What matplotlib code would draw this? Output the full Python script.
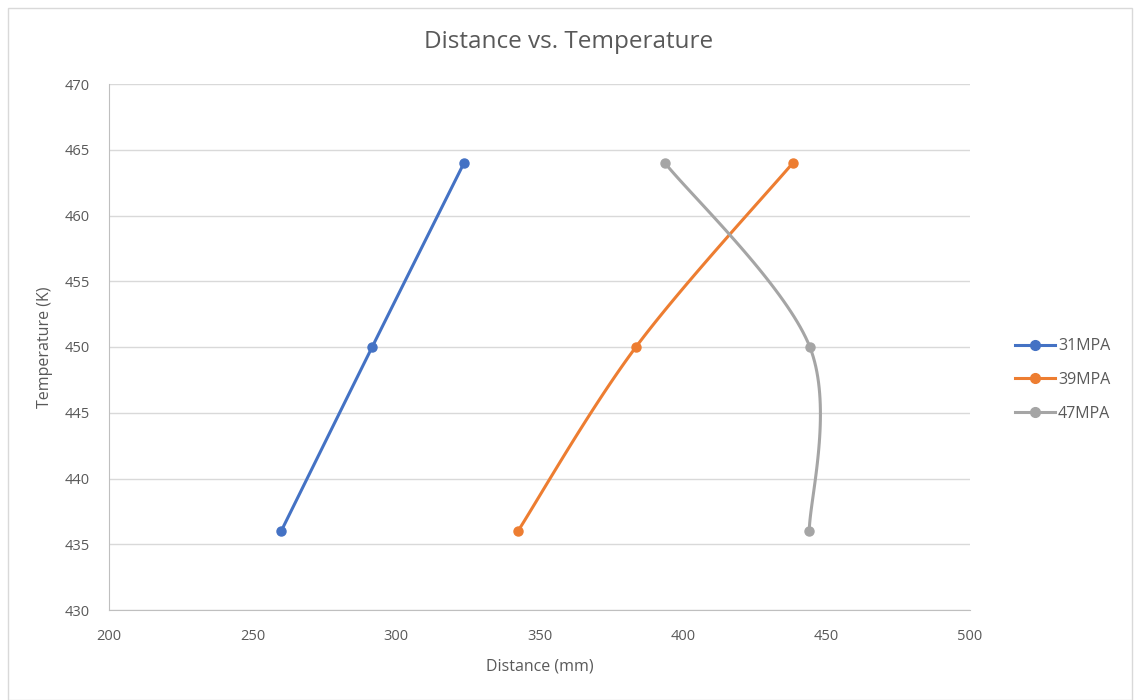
import numpy as np
import matplotlib.pyplot as plt
from matplotlib.patches import Rectangle

temps = [436, 450, 464]
dist_31 = [260.0, 291.7, 323.7]
dist_39 = [342.5, 383.6, 438.3]
dist_47 = [444.0, 444.2, 393.7]
labels = ['31MPA', '39MPA', '47MPA']
colors = ['#4472C4', '#ED7D31', '#A5A5A5']

xticks = [200, 250, 300, 350, 400, 450, 500]
yticks = [430, 435, 440, 445, 450, 455, 460, 465, 470]

# pixel scale of the axes, so smoothing looks like excel's
sx = 861 / 300.0
sy = 526 / 40.0


def smooth(xs, ys, n=40):
    p = np.column_stack([np.array(xs) * sx, np.array(ys) * sy])
    out = []
    for i in range(len(p) - 1):
        p0 = p[i - 1] if i > 0 else p[i]
        p3 = p[i + 2] if i + 2 < len(p) else p[i + 1]
        c1 = p[i] + (p[i + 1] - p0) / 6.0
        c2 = p[i + 1] - (p3 - p[i]) / 6.0
        t = np.linspace(0, 1, n)[:, None]
        seg = ((1 - t) ** 3 * p[i] + 3 * (1 - t) ** 2 * t * c1
               + 3 * (1 - t) * t ** 2 * c2 + t ** 3 * p[i + 1])
        out.append(seg)
    out = np.vstack(out)
    return out[:, 0] / sx, out[:, 1] / sy


plt.rcParams['font.family'] = ['Open Sans', 'DejaVu Sans']
fig = plt.figure(figsize=(11.38, 7.0), dpi=100)
fig.patches.append(Rectangle((8 / 1138, 0), 1124 / 1138, 692 / 700,
                             transform=fig.transFigure, fill=False,
                             edgecolor='#D9D9D9', linewidth=1))
ax = fig.add_axes([109 / 1138, 90 / 700, 861 / 1138, 526 / 700])

for d, lab, c in zip([dist_31, dist_39, dist_47], labels, colors):
    sx_, sy_ = smooth(d, temps)
    ax.plot(sx_, sy_, color=c, lw=2.2, zorder=3)
    ax.plot(d, temps, 'o', color=c, ms=6.5, zorder=4)
    ax.plot([], [], '-o', color=c, lw=2.2, ms=7, label=lab)

ax.set_xlim(200, 500)
ax.set_ylim(430, 470)
ax.set_xticks(xticks)
ax.set_yticks(yticks)
ax.grid(axis='y', color='#D9D9D9', lw=1)
ax.set_axisbelow(True)
for s in ['top', 'right']:
    ax.spines[s].set_visible(False)
for s in ['left', 'bottom']:
    ax.spines[s].set_color('#BFBFBF')
ax.tick_params(axis='x', length=0, colors='#595959', labelsize=10.5, pad=14)
ax.tick_params(axis='y', length=0, colors='#595959', labelsize=10.5, pad=14)
ax.set_xlabel('Distance (mm)', color='#595959', fontsize=11.5, labelpad=10)
ax.set_ylabel('Temperature (K)', color='#595959', fontsize=11.5, labelpad=8)
fig.text(0.5, 1 - 42 / 700, 'Distance vs. Temperature', color='#595959',
         fontsize=17.5, ha='center', va='center')

ax.legend(loc='center left', bbox_to_anchor=(1015 / 1138, 1 - 380 / 700),
          bbox_transform=fig.transFigure, borderaxespad=0, borderpad=0,
          frameon=False, fontsize=11.5, labelcolor='#595959', handlelength=2.5,
          handletextpad=0.2, labelspacing=1.1)

fig.savefig('out.png', dpi=100)
